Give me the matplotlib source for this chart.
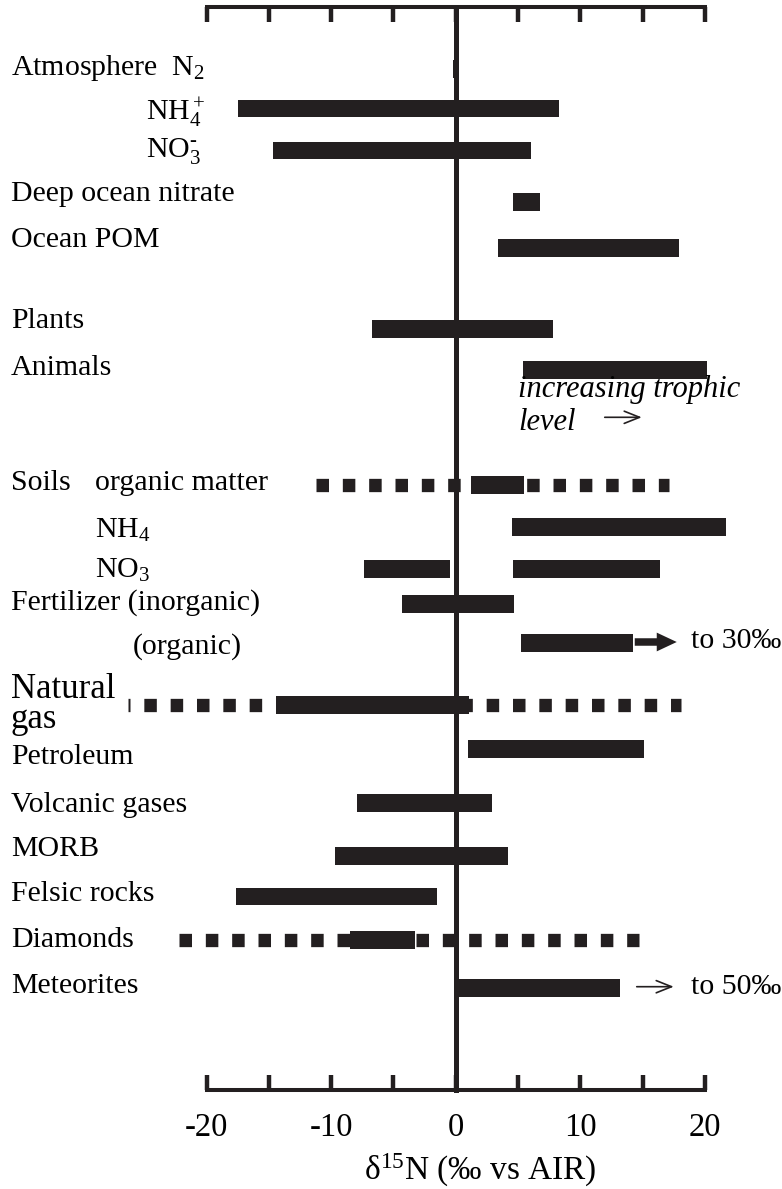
import matplotlib
matplotlib.use("Agg")
import matplotlib.pyplot as plt
import matplotlib.transforms as mtransforms

plt.rcParams['font.family'] = ['Liberation Serif', 'DejaVu Serif']
plt.rcParams['mathtext.fontset'] = 'custom'
plt.rcParams['mathtext.rm'] = 'Liberation Serif'
plt.rcParams['mathtext.it'] = 'Liberation Serif:italic'
plt.rcParams['mathtext.bf'] = 'Liberation Serif:bold'

# ---------------- data ----------------
bar_names = ["Atmosphere N2", "NH4+", "NO3-", "Deep ocean nitrate", "Ocean POM",
             "Plants", "Animals", "Soils organic matter", "Soils NH4",
             "Soils NO3", "Soils NO3", "Fertilizer (inorganic)", "Fertilizer (organic)",
             "Natural gas", "Petroleum", "Volcanic gases", "MORB", "Felsic rocks",
             "Diamonds", "Meteorites"]
bar_low = [-0.25, -17.5, -14.7, 4.6, 3.4,
           -6.7, 5.4, 1.2, 4.5,
           -7.4, 4.6, -4.3, 5.2,
           -14.4, 1.0, -7.9, -9.7, -17.6,
           -8.5, 0.0]
bar_high = [0.3, 8.3, 6.0, 6.8, 17.9,
            7.8, 20.2, 5.5, 21.7,
            -0.45, 16.4, 4.7, 14.2,
            1.1, 15.1, 2.9, 4.2, -1.5,
            -3.3, 13.2]

dotted_names = ["Soils organic matter", "Natural gas", "Diamonds"]
dotted_low = [-11.2, -26.3, -22.2]
dotted_high = [17.1, 18.1, 14.7]

xticks = [-20, -15, -10, -5, 0, 5, 10, 15, 20]
xtick_labels = ["-20", "", "-10", "", "0", "", "10", "", "20"]

# ---------------- layout (pixel rows of the 782x1189 figure) ----------------
W, H = 782, 1189
row_y = {"Atmosphere N2": 69, "NH4+": 108.7, "NO3-": 150.8, "Deep ocean nitrate": 202,
         "Ocean POM": 248, "Plants": 329, "Animals": 370, "Soils organic matter": 485,
         "Soils NH4": 527, "Soils NO3": 569, "Fertilizer (inorganic)": 604,
         "Fertilizer (organic)": 643, "Natural gas": 705, "Petroleum": 749,
         "Volcanic gases": 803, "MORB": 856, "Felsic rocks": 896.5, "Diamonds": 940,
         "Meteorites": 988}

# label text, left x (px), baseline y (px), size
labels = [("Atmosphere  N$_2$", 11, 75, 21.5),
          ("NH$_4^+$", 146.5, 120.7, 21.5),
          ("NO$_3^{\u2010}$", 146.5, 156.7, 21.5),
          ("Deep ocean nitrate", 11, 201, 21.5),
          ("Ocean POM", 11, 247.3, 21.5),
          ("Plants", 11, 328.3, 21.5),
          ("Animals", 11, 375, 21.5),
          ("Soils", 11, 490, 21.5),
          ("organic matter", 95, 490, 21.5),
          ("NH$_4$", 95, 537.3, 21.5),
          ("NO$_3$", 95, 577.3, 21.5),
          ("Fertilizer (inorganic)", 11, 610, 21.5),
          ("(organic)", 132.5, 653.3, 21.5),
          ("Natural", 11, 698.3, 25),
          ("gas", 11, 728.3, 25),
          ("Petroleum", 11, 764, 21.5),
          ("Volcanic gases", 11, 811.7, 21.5),
          ("MORB", 11, 855.7, 21.5),
          ("Felsic rocks", 11, 901, 21.5),
          ("Diamonds", 11, 946.7, 21.5),
          ("Meteorites", 11, 993.3, 21.5)]

ax_left, ax_right = 206.5, 705.0
ax_top, ax_bot = 7.3, 1090.3
bar_h = 17.3
ink = '#231f20'

fig = plt.figure(figsize=(W / 100, H / 100), dpi=100)
ax = fig.add_axes([ax_left / W, 1 - ax_bot / H, (ax_right - ax_left) / W, (ax_bot - ax_top) / H])
ax.set_xlim(-20, 20)
ax.set_ylim(ax_bot, ax_top)

# dotted ranges
lw_dot = 13.3 * 0.72
for name, lo, hi in zip(dotted_names, dotted_low, dotted_high):
    off = 0.79 if name == "Natural gas" else 0.0
    ln, = ax.plot([lo, hi], [row_y[name]] * 2, color=ink, lw=lw_dot,
                  solid_capstyle='butt', dash_capstyle='butt', clip_on=False, zorder=2)
    ln.set_linestyle((off, (0.94, 1.04)))

# solid bars
ys = [row_y[n] for n in bar_names]
ax.barh(ys, [h - l for l, h in zip(bar_low, bar_high)], left=bar_low, height=bar_h,
        color=ink, edgecolor='none', zorder=3, clip_on=False)

# center line
ax.axvline(0, color=ink, lw=3.6, zorder=4, clip_on=False)

# spines / ticks
for s in ['left', 'right']:
    ax.spines[s].set_visible(False)
for s in ['top', 'bottom']:
    ax.spines[s].set_linewidth(2.9)
    ax.spines[s].set_color(ink)
ax.set_yticks([])
ax.set_xticks(xticks)
ax.set_xticklabels(xtick_labels)
ax.tick_params(axis='x', which='both', direction='in', length=11, width=3.2, color=ink,
               top=True, bottom=True, labeltop=False, labelbottom=True,
               labelsize=23.5, pad=16)
ax.set_xlabel(r'δ$^{15}$N (‰ vs AIR)', fontsize=24, va='baseline')
ax.xaxis.set_label_coords((480 - ax_left) / (ax_right - ax_left), -(1180 - ax_bot) / (ax_bot - ax_top))

# row labels
trans = mtransforms.blended_transform_factory(fig.transFigure, ax.transData)
for txt, x, y, fs in labels:
    ax.text(x / W, y, txt, transform=trans, fontsize=fs, ha='left', va='baseline', color='black')

# annotations
def px2x(px):
    return (px - 455.0) / ((ax_right - ax_left) / 40.0)

ax.text(px2x(517.5), 396.7, 'increasing trophic', fontsize=22, style='italic', va='baseline')
ax.text(px2x(517.5), 430, 'level', fontsize=22, style='italic', va='baseline')
ax.annotate('', xy=(px2x(641), 417.3), xytext=(px2x(604), 417.3),
            arrowprops=dict(arrowstyle='->,head_length=0.55,head_width=0.22', lw=1.2, color=ink,
                            shrinkA=0, shrinkB=0, mutation_scale=20), annotation_clip=False)

ax.annotate('', xy=(px2x(676), 642), xytext=(px2x(634), 642),
            arrowprops=dict(arrowstyle='simple,head_length=0.48,head_width=0.45,tail_width=0.18',
                            lw=0, color=ink, shrinkA=0, shrinkB=0, mutation_scale=30),
            annotation_clip=False)
ax.text(px2x(690), 648, 'to 30‰', fontsize=21.5, va='baseline')

ax.annotate('', xy=(px2x(673), 986.7), xytext=(px2x(636), 986.7),
            arrowprops=dict(arrowstyle='->,head_length=0.55,head_width=0.22', lw=1.2, color=ink,
                            shrinkA=0, shrinkB=0, mutation_scale=20), annotation_clip=False)
ax.text(px2x(690), 994, 'to 50‰', fontsize=21.5, va='baseline')

fig.savefig('out.png', dpi=100)
